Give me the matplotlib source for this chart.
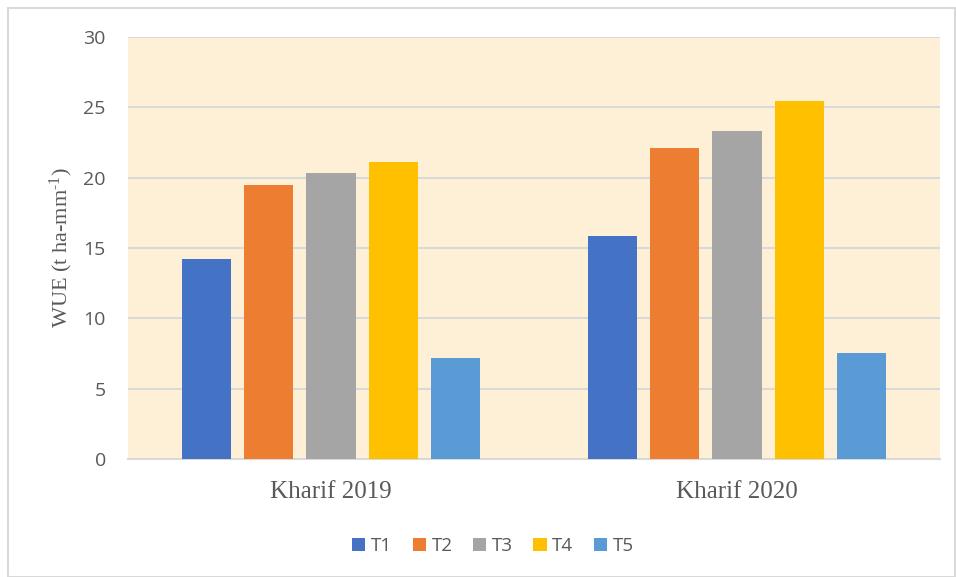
import matplotlib.pyplot as plt
import numpy as np
from matplotlib.patches import Rectangle

SEASONS = ["Kharif 2019", "Kharif 2020"]
TREATMENTS = ["T1", "T2", "T3", "T4", "T5"]
WUE = {
    "T1": [14.2, 15.85],
    "T2": [19.5, 22.1],
    "T3": [20.3, 23.35],
    "T4": [21.1, 25.45],
    "T5": [7.2, 7.55],
}
COLORS = ["#4472C4", "#ED7D31", "#A5A5A5", "#FFC000", "#5B9BD5"]


def main():
    plt.rcParams["mathtext.fontset"] = "custom"
    plt.rcParams["mathtext.rm"] = "Liberation Serif"
    plt.rcParams["mathtext.it"] = "Liberation Serif:italic"

    fig = plt.figure(figsize=(9.56, 5.77), dpi=100)
    ax = fig.add_axes([128 / 956, 1 - 459 / 577, 812 / 956, 422 / 577])
    fig.patches.append(Rectangle((8 / 956, 0), 1 - 9 / 956, 1 - 8 / 577,
                                 transform=fig.transFigure, fill=False,
                                 edgecolor="#D9D9D9", linewidth=1.5))

    ax.set_facecolor("#FDF0D6")
    x = np.arange(len(SEASONS))
    step = 0.1535
    width = 0.1207
    for i, (t, c) in enumerate(zip(TREATMENTS, COLORS)):
        ax.bar(x + (i - 2) * step, WUE[t], width, color=c, label=t, zorder=3)

    ax.set_xlim(-0.5, 1.5)
    ax.set_ylim(0, 30)
    ax.set_yticks(range(0, 31, 5))
    ax.set_xticks(x)
    ax.set_xticklabels(SEASONS, family="Liberation Serif", fontsize=18, color="#595959")
    ax.tick_params(axis="y", labelsize=14, colors="#595959", length=0, pad=16)
    ax.tick_params(axis="x", length=0, pad=16)
    for lbl in ax.get_yticklabels():
        lbl.set_family("Open Sans")
    ax.grid(axis="y", color="#D9D9D9", linewidth=1.5, zorder=1)
    for s in ["top", "right", "left"]:
        ax.spines[s].set_visible(False)
    ax.spines["bottom"].set_color("#D9D9D9")
    ax.spines["bottom"].set_linewidth(1.5)

    ax.set_ylabel(r"WUE (t ha-mm$^{\text{-}1}$)", family="Liberation Serif", fontsize=16,
                  color="#595959", labelpad=6)

    fig.legend(loc="center", bbox_to_anchor=(493 / 956, 1 - 546 / 577), ncol=5,
               frameon=False, handlelength=0.7, handleheight=0.7,
               handletextpad=0.3, columnspacing=1.1, labelcolor="#595959",
               prop={"family": "Open Sans", "size": 13.5})

    fig.savefig("out.png", dpi=100, facecolor="white")


if __name__ == "__main__":
    main()
